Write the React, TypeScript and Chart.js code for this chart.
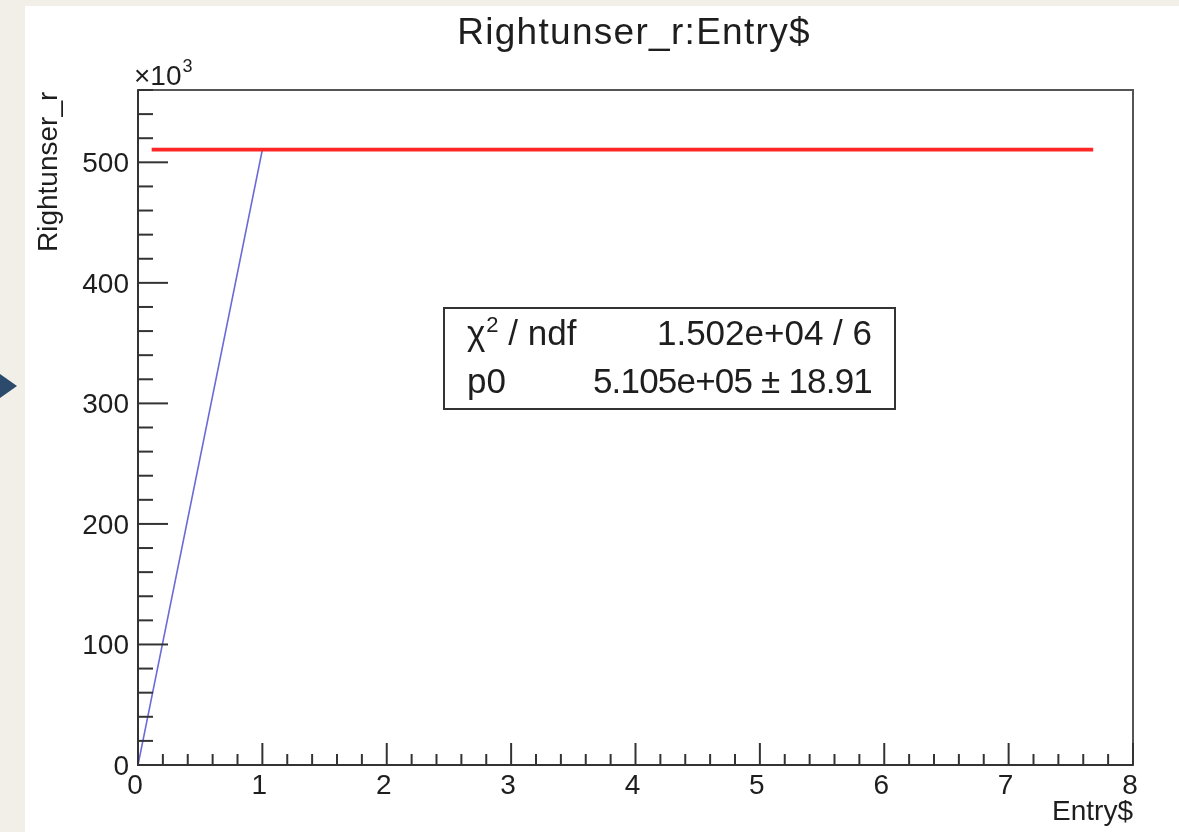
import React, { useEffect, useRef } from "react";
import { Chart, registerables } from "chart.js";

Chart.register(...registerables);

const entries = [0, 1, 2, 3, 4, 5, 6, 7];
const rightunserValues = [0, 510500, 510500, 510500, 510500, 510500, 510500, 510500];
const fitRange = [0.11, 7.68];
const fitP0 = 510500;
const xTickLabels = ["0", "1", "2", "3", "4", "5", "6", "7", "8"];
const yTickValues = [0, 100000, 200000, 300000, 400000, 500000];
const yTickLabels = ["0", "100", "200", "300", "400", "500"];
const xRange = [0, 8];
const yRange = [0, 560000];
const titleText = "Rightunser_r:Entry$";
const xAxisTitle = "Entry$";
const yAxisTitle = "Rightunser_r";
const statsRows = [
  ["χ", "1.502e+04 / 6"],
  ["p0", "5.105e+05 ± 18.91"],
];

const FONT = "'Liberation Sans', Arial, Helvetica, sans-serif";
const TEXT = "#1e1e1e";

const rootPlugin = {
  id: "rootLook",
  beforeDraw(chart: any) {
    const ctx = chart.ctx;
    ctx.save();
    ctx.fillStyle = "#f2efe9";
    ctx.fillRect(0, 0, chart.width, chart.height);
    ctx.fillStyle = "#ffffff";
    ctx.fillRect(25, 6, chart.width - 25, chart.height - 6);
    // slide arrow
    ctx.fillStyle = "#2c4a6b";
    ctx.beginPath();
    ctx.moveTo(0, 374);
    ctx.lineTo(17, 386);
    ctx.lineTo(0, 398);
    ctx.closePath();
    ctx.fill();
    ctx.restore();
  },
  afterDatasetsDraw(chart: any) {
    const ctx = chart.ctx;
    const xs = chart.scales.x;
    const ys = chart.scales.y;
    const { left, right, top, bottom } = chart.chartArea;
    ctx.save();
    // frame
    ctx.strokeStyle = "#555";
    ctx.lineWidth = 2;
    ctx.strokeRect(left, top, right - left, bottom - top);
    ctx.strokeStyle = "#333";
    ctx.beginPath();
    ctx.moveTo(left, top);
    ctx.lineTo(left, bottom);
    ctx.lineTo(right, bottom);
    ctx.stroke();

    // x ticks
    ctx.lineWidth = 2;
    ctx.strokeStyle = "#333";
    for (let i = 0; i <= 40; i++) {
      const v = xRange[0] + (i * (xRange[1] - xRange[0])) / 40;
      const px = xs.getPixelForValue(v);
      const len = i % 5 === 0 ? 22 : 11;
      ctx.beginPath();
      ctx.moveTo(px, bottom);
      ctx.lineTo(px, bottom - len);
      ctx.stroke();
    }
    // y ticks
    for (let v = yRange[0]; v <= yRange[1]; v += 20000) {
      const py = ys.getPixelForValue(v);
      const len = v % 100000 === 0 ? 30 : 15;
      ctx.beginPath();
      ctx.moveTo(left, py);
      ctx.lineTo(left + len, py);
      ctx.stroke();
    }

    // tick labels
    ctx.fillStyle = TEXT;
    ctx.font = `28px ${FONT}`;
    ctx.textAlign = "center";
    ctx.textBaseline = "alphabetic";
    xTickLabels.forEach((lab) => {
      const px = xs.getPixelForValue(Number(lab));
      ctx.fillText(lab, px - 3, bottom + 29);
    });
    ctx.textAlign = "right";
    yTickLabels.forEach((lab, i) => {
      const py = ys.getPixelForValue(yTickValues[i]);
      ctx.fillText(lab, left - 9, py + 10);
    });

    // x10^3
    ctx.textAlign = "left";
    ctx.font = `28px ${FONT}`;
    ctx.fillText("×10", 134, 85);
    const w10 = ctx.measureText("×10").width;
    ctx.font = `18px ${FONT}`;
    ctx.fillText("3", 134 + w10 + 1, 72);

    // axis titles
    ctx.font = `28px ${FONT}`;
    ctx.textAlign = "right";
    ctx.fillText(xAxisTitle, right, 820);
    ctx.save();
    ctx.translate(57, 252);
    ctx.rotate(-Math.PI / 2);
    ctx.textAlign = "left";
    ctx.fillText(yAxisTitle, 0, 0);
    ctx.restore();

    // title
    ctx.font = `37px ${FONT}`;
    ctx.textAlign = "left";
    (ctx as any).letterSpacing = "1.3px";
    const tw = ctx.measureText(titleText).width;
    ctx.fillText(titleText, 634 - tw / 2, 44);
    (ctx as any).letterSpacing = "0px";

    // stats box
    const bx = 444, by = 308, bw = 451, bh = 101;
    ctx.fillStyle = "#ffffff";
    ctx.fillRect(bx, by, bw, bh);
    ctx.strokeStyle = "#333";
    ctx.lineWidth = 2;
    ctx.strokeRect(bx, by, bw, bh);
    ctx.fillStyle = TEXT;
    ctx.font = `35px ${FONT}`;
    ctx.textAlign = "left";
    // row 1: chi^2 / ndf
    ctx.fillText(statsRows[0][0], 467, 345);
    const chiW = ctx.measureText(statsRows[0][0]).width;
    ctx.font = `22px ${FONT}`;
    ctx.fillText("2", 467 + chiW + 1, 332);
    const twoW = ctx.measureText("2").width;
    ctx.font = `35px ${FONT}`;
    ctx.fillText(" / ndf", 467 + chiW + twoW + 1, 345);
    ctx.textAlign = "right";
    ctx.fillText(statsRows[0][1], 872, 345);
    // row 2
    ctx.textAlign = "left";
    ctx.fillText(statsRows[1][0], 467, 393);
    ctx.textAlign = "right";
    (ctx as any).letterSpacing = "-0.8px";
    ctx.fillText(statsRows[1][1], 872, 393);
    (ctx as any).letterSpacing = "0px";
    ctx.restore();
  },
};

export default function App() {
  const canvasRef = useRef<HTMLCanvasElement | null>(null);

  useEffect(() => {
    const canvas = canvasRef.current;
    if (!canvas) return;
    const graphData = entries.map((x, i) => ({ x, y: rightunserValues[i] }));
    const fitData = fitRange.map((x) => ({ x, y: fitP0 }));
    const chart = new Chart(canvas, {
      type: "scatter",
      data: {
        datasets: [
          {
            label: "graph",
            data: graphData,
            showLine: true,
            borderColor: "#6a6ad8",
            borderWidth: 1.6,
            pointRadius: 0,
            tension: 0,
            order: 2,
          },
          {
            label: "fit",
            data: fitData,
            showLine: true,
            borderColor: "#ff2626",
            borderWidth: 3.6,
            pointRadius: 0,
            tension: 0,
            order: 1,
          },
        ],
      },
      options: {
        responsive: false,
        animation: false,
        layout: { padding: { left: 138, top: 90, right: 46, bottom: 67 } },
        plugins: {
          legend: { display: false },
          tooltip: { enabled: false },
          title: { display: false },
        },
        scales: {
          x: { type: "linear", min: xRange[0], max: xRange[1], display: false },
          y: { type: "linear", min: yRange[0], max: yRange[1], display: false },
        },
      },
      plugins: [rootPlugin],
    });
    return () => chart.destroy();
  }, []);

  return (
    <div style={{ position: "fixed", left: 0, top: 0, width: 1179, height: 832 }}>
      <canvas ref={canvasRef} width={1179} height={832} style={{ display: "block" }} />
    </div>
  );
}
